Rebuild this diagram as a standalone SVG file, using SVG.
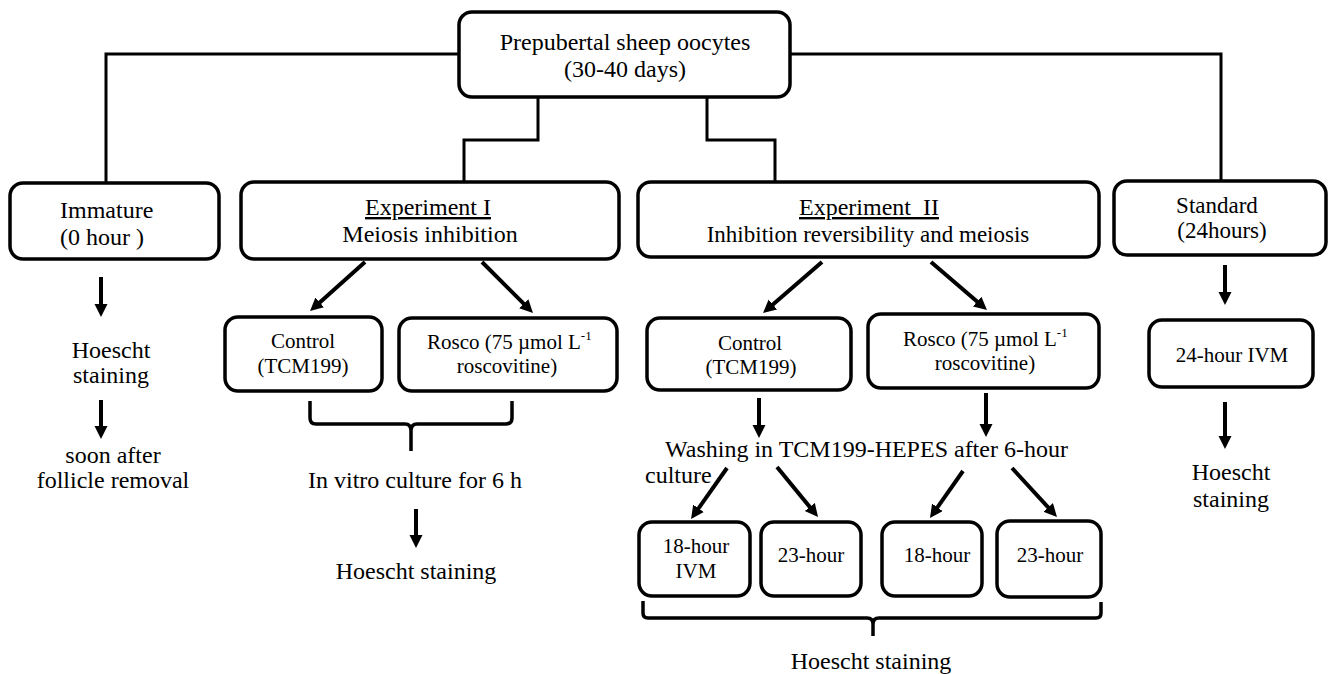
<svg xmlns="http://www.w3.org/2000/svg" width="1328" height="674" viewBox="0 0 1328 674">
<style>
  .box { fill: #fff; stroke: #000; stroke-width: 3.5; }
  .conn { fill: none; stroke: #000; stroke-width: 3; }
  .arr { fill: none; stroke: #000; stroke-width: 4; marker-end: url(#ah); }
  .brace { fill: none; stroke: #000; stroke-width: 3.5; stroke-linejoin: round; }
  text { font-family: "Liberation Serif", "Times New Roman", serif; fill: #000; }
  .t24 { font-size: 24px; }
  .t23 { font-size: 23px; }
  .t21 { font-size: 21px; }
  .mid { text-anchor: middle; }
  .u { text-decoration: underline; }
</style>
<defs>
  <marker id="ah" markerUnits="userSpaceOnUse" markerWidth="14" markerHeight="14" refX="3" refY="6.5" orient="auto">
    <path d="M0,0 L13,6.5 L0,13 z" fill="#000"/>
  </marker>
</defs>
<rect width="1328" height="674" fill="#fff"/>

<g id="connectors">
  <path class="conn" d="M459,54 H106 V183"/>
  <path class="conn" d="M538,97 V140 H464 V182"/>
  <path class="conn" d="M707,97 V140 H775 V182"/>
  <path class="conn" d="M790,54 H1221 V181"/>
  <!-- Immature column -->
  <line class="arr" x1="101" y1="277" x2="101" y2="307"/>
  <line class="arr" x1="101" y1="400" x2="101" y2="429"/>
  <!-- Experiment I -->
  <line class="arr" x1="365" y1="262" x2="317.5" y2="304.4"/>
  <line class="arr" x1="482" y1="262" x2="525.9" y2="305.9"/>
  <line class="arr" x1="416" y1="509" x2="416" y2="538"/>
  <!-- Experiment II -->
  <line class="arr" x1="822" y1="262" x2="770.6" y2="306.5"/>
  <line class="arr" x1="931" y1="262" x2="979.4" y2="303.5"/>
  <line class="arr" x1="759" y1="398" x2="759" y2="428"/>
  <line class="arr" x1="986" y1="393" x2="986" y2="427"/>
  <line class="arr" x1="727" y1="468" x2="696.8" y2="510.8"/>
  <line class="arr" x1="777" y1="467" x2="811.7" y2="509.3"/>
  <line class="arr" x1="963" y1="471" x2="935.7" y2="509.8"/>
  <line class="arr" x1="1012" y1="468" x2="1050.2" y2="509.6"/>
  <!-- Standard -->
  <line class="arr" x1="1225" y1="265" x2="1225" y2="295"/>
  <line class="arr" x1="1225" y1="402" x2="1225" y2="439"/>
  <!-- Braces -->
  <path class="brace" d="M310,401 V418 Q310,424 316,424 H405 Q411,424 411,431 V451 M411,431 Q411,424 417,424 H506 Q512,424 512,418 V401"/>
  <path class="brace" d="M643,601 V613 Q643,618 648,618 H867 Q873,618 873,624 V636 M873,624 Q873,618 879,618 H1096 Q1101,618 1101,613 V602"/>
</g>

<g id="node-top">
  <rect class="box" x="459" y="12" width="331" height="85" rx="13"/>
  <text class="t24 mid" x="625" y="50">Prepubertal sheep oocytes</text>
  <text class="t24 mid" x="625" y="77">(30-40 days)</text>
</g>

<g id="node-immature">
  <rect class="box" x="10" y="183" width="209" height="76" rx="13"/>
  <text class="t24" x="60" y="218">Immature</text>
  <text class="t24" x="60" y="245" xml:space="preserve">(0 hour )</text>
</g>

<g id="node-left-hoescht">
  <text class="t24 mid" x="111" y="358">Hoescht</text>
  <text class="t24 mid" x="111" y="383">staining</text>
</g>
<g id="node-left-soon">
  <text class="t24 mid" x="113" y="463">soon after</text>
  <text class="t24 mid" x="113" y="488">follicle removal</text>
</g>

<g id="node-exp1">
  <rect class="box" x="241" y="182" width="378" height="77" rx="13"/>
  <text class="t24 mid u" x="428" y="215">Experiment I</text>
  <text class="t24 mid" x="430" y="242">Meiosis inhibition</text>
</g>

<g id="node-exp1-control">
  <rect class="box" x="225" y="317" width="157" height="74" rx="13"/>
  <text class="t21 mid" x="303" y="348">Control</text>
  <text class="t21 mid" x="303" y="373">(TCM199)</text>
</g>

<g id="node-exp1-rosco">
  <rect class="box" x="399" y="318" width="218" height="73" rx="13"/>
  <text class="t21" x="427" y="349">Rosco (75 µmol L<tspan font-size="13" dy="-9">-1</tspan></text>
  <text class="t21 mid" x="507" y="373">roscovitine)</text>
</g>

<g id="node-exp1-culture">
  <text class="t24 mid" x="415" y="488">In vitro culture for 6 h</text>
</g>
<g id="node-exp1-hoescht">
  <text class="t24 mid" x="416" y="579">Hoescht staining</text>
</g>

<g id="node-exp2">
  <rect class="box" x="638" y="182" width="461" height="75" rx="13"/>
  <text class="t24 mid u" x="869" y="215" xml:space="preserve">Experiment  II</text>
  <text class="t23 mid" x="868" y="242">Inhibition reversibility and meiosis</text>
</g>

<g id="node-exp2-control">
  <rect class="box" x="647" y="318" width="204" height="72" rx="13"/>
  <text class="t21 mid" x="750" y="350">Control</text>
  <text class="t21 mid" x="751" y="374">(TCM199)</text>
</g>

<g id="node-exp2-rosco">
  <rect class="box" x="868" y="314" width="231" height="74" rx="13"/>
  <text class="t21" x="903" y="346">Rosco (75 µmol L<tspan font-size="13" dy="-9">-1</tspan></text>
  <text class="t21 mid" x="985" y="370">roscovitine)</text>
</g>

<g id="node-exp2-washing">
  <text class="t24" x="665" y="457">Washing in TCM199-HEPES after 6-hour</text>
  <text class="t24" x="645" y="483">culture</text>
</g>

<g id="node-exp2-c18">
  <rect class="box" x="639" y="522" width="111" height="74" rx="13"/>
  <text class="t21 mid" x="696" y="553">18-hour</text>
  <text class="t21 mid" x="696" y="578">IVM</text>
</g>
<g id="node-exp2-c23">
  <rect class="box" x="761" y="522" width="100" height="74" rx="13"/>
  <text class="t21 mid" x="811" y="562">23-hour</text>
</g>
<g id="node-exp2-r18">
  <rect class="box" x="882" y="522" width="100" height="74" rx="13"/>
  <text class="t21 mid" x="937" y="562">18-hour</text>
</g>
<g id="node-exp2-r23">
  <rect class="box" x="997" y="521" width="104" height="76" rx="13"/>
  <text class="t21 mid" x="1050" y="562">23-hour</text>
</g>
<g id="node-exp2-hoescht">
  <text class="t24 mid" x="871" y="669">Hoescht staining</text>
</g>

<g id="node-standard">
  <rect class="box" x="1114" y="181" width="212" height="74" rx="13"/>
  <text class="t23 mid" x="1217" y="213">Standard</text>
  <text class="t23 mid" x="1222" y="238">(24hours)</text>
</g>
<g id="node-standard-ivm">
  <rect class="box" x="1149" y="320" width="164" height="67" rx="13"/>
  <text class="t21 mid" x="1232" y="362">24-hour IVM</text>
</g>
<g id="node-standard-hoescht">
  <text class="t24 mid" x="1231" y="480">Hoescht</text>
  <text class="t24 mid" x="1231" y="507">staining</text>
</g>
</svg>
